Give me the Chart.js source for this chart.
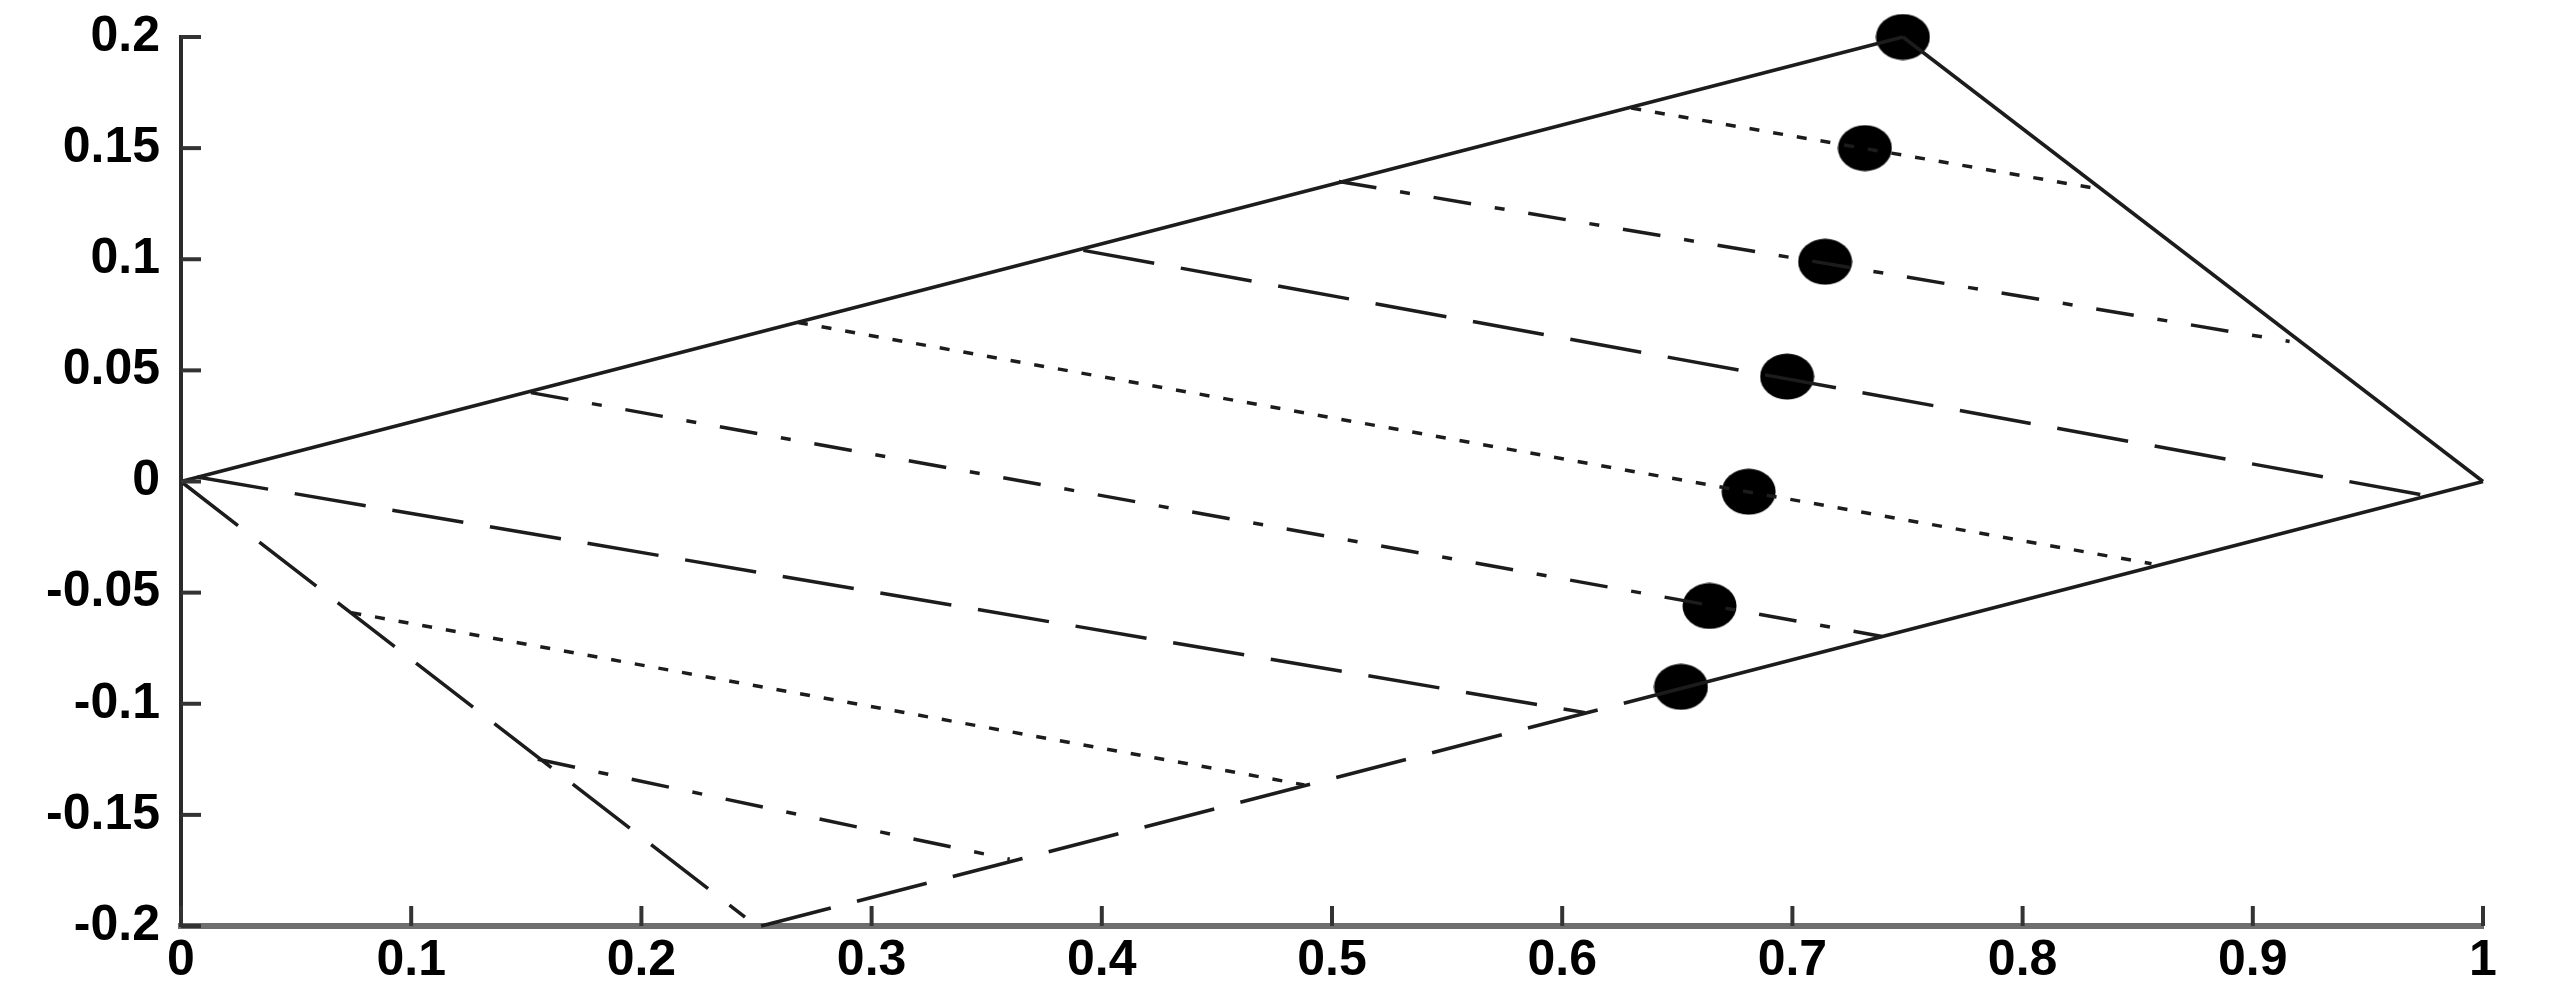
<!DOCTYPE html>
<html>
<head>
<meta charset="utf-8">
<script src="https://cdn.jsdelivr.net/npm/chart.js@4.4.1/dist/chart.umd.min.js"></script>
<style>
  html, body { margin: 0; padding: 0; background: #fff; }
  #wrap { width: 2556px; height: 995px; }
</style>
</head>
<body>
<div id="wrap"><canvas id="regionChart" width="2556" height="995"></canvas></div>
<script>
// tick values and labels
const xTickValues = [0, 0.1, 0.2, 0.3, 0.4, 0.5, 0.6, 0.7, 0.8, 0.9, 1];
const xTickLabels = ['0', '0.1', '0.2', '0.3', '0.4', '0.5', '0.6', '0.7', '0.8', '0.9', '1'];
const yTickValues = [-0.2, -0.15, -0.1, -0.05, 0, 0.05, 0.1, 0.15, 0.2];
const yTickLabels = ['-0.2', '-0.15', '-0.1', '-0.05', '0', '0.05', '0.1', '0.15', '0.2'];

// boundary of the region
const edgeUpper = [[0, 0], [0.748, 0.2]];
const edgeRight = [[0.748, 0.2], [1, 0]];
const edgeLeft = [[0, 0], [0.245, -0.196]];
const edgeLowerDashed = [[0.252, -0.2], [0.652, -0.093]];
const edgeLowerSolid = [[0.652, -0.093], [1, 0]];

// parallel level lines, top to bottom
const levelA = [[0.630, 0.168], [0.831, 0.132]];
const levelB = [[0.503, 0.135], [0.916, 0.063]];
const levelC = [[0.392, 0.104], [0.976, -0.0065]];
const levelD = [[0.268, 0.0715], [0.856, -0.037]];
const levelE = [[0.152, 0.040], [0.739, -0.0697]];
const levelF = [[0.007, 0.002], [0.610, -0.104]];
const levelG = [[0.074, -0.059], [0.488, -0.1365]];
const levelH = [[0.155, -0.125], [0.360, -0.170]];

// marked points
const dotX = [0.748, 0.7315, 0.7142, 0.6977, 0.681, 0.664, 0.6516];
const dotY = [0.2, 0.150, 0.0989, 0.0472, -0.0046, -0.056, -0.0924];

const DASH = {
    solid: [],
    dotted: [10, 14],
    dashDot: [38, 24, 10, 24],
    longDash: [72, 27],
};
const LINE_COLOR = '#1c1c1c';

function segment(points, dash) {
    return {
        type: 'scatter',
        data: points.map(function (p) { return { x: p[0], y: p[1] }; }),
        showLine: true,
        borderColor: LINE_COLOR,
        borderWidth: 3.5,
        borderDash: dash,
        pointRadius: 0,
        clip: false,
    };
}

// the markers are slightly wider than tall in the picture
function ellipseMarker(w, h) {
    const c = document.createElement('canvas');
    c.width = w;
    c.height = h;
    const g = c.getContext('2d');
    g.fillStyle = '#000';
    g.beginPath();
    g.ellipse(w / 2, h / 2, w / 2 - 0.5, h / 2 - 0.5, 0, 0, Math.PI * 2);
    g.fill();
    return c;
}

// short tick marks drawn inward from the two axes
const inwardTicks = {
    id: 'inwardTicks',
    afterDraw: function (chart) {
        const ctx = chart.ctx;
        const area = chart.chartArea;
        const xs = chart.scales.x;
        const ys = chart.scales.y;
        ctx.save();
        ctx.strokeStyle = '#333';
        ctx.lineWidth = 4;
        xs.ticks.forEach(function (t) {
            const px = xs.getPixelForValue(t.value);
            ctx.beginPath();
            ctx.moveTo(px, area.bottom);
            ctx.lineTo(px, area.bottom - 20);
            ctx.stroke();
        });
        ys.ticks.forEach(function (t) {
            const py = ys.getPixelForValue(t.value);
            ctx.beginPath();
            ctx.moveTo(area.left, py);
            ctx.lineTo(area.left + 20, py);
            ctx.stroke();
        });
        ctx.restore();
    },
};

const tickFont = { family: '"Liberation Sans", Arial, sans-serif', size: 50, weight: 'bold' };

new Chart(document.getElementById('regionChart').getContext('2d'), {
    data: {
        datasets: [
            segment(edgeUpper, DASH.solid),
            segment(edgeRight, DASH.solid),
            segment(edgeLeft, DASH.longDash),
            segment(edgeLowerDashed, DASH.longDash),
            segment(edgeLowerSolid, DASH.solid),
            segment(levelA, DASH.dotted),
            segment(levelB, DASH.dashDot),
            segment(levelC, DASH.longDash),
            segment(levelD, DASH.dotted),
            segment(levelE, DASH.dashDot),
            segment(levelF, DASH.longDash),
            segment(levelG, DASH.dotted),
            segment(levelH, DASH.dashDot),
            {
                type: 'scatter',
                data: dotX.map(function (x, i) { return { x: x, y: dotY[i] }; }),
                pointStyle: ellipseMarker(55, 47),
                pointRadius: 25,
                clip: false,
            },
        ],
    },
    options: {
        responsive: false,
        devicePixelRatio: 1,
        animation: false,
        layout: { padding: { top: 37, right: 73, left: 0, bottom: 0 } },
        plugins: { legend: { display: false }, tooltip: { enabled: false } },
        scales: {
            x: {
                type: 'linear',
                min: 0,
                max: 1,
                afterBuildTicks: function (s) { s.ticks = xTickValues.map(function (v) { return { value: v }; }); },
                afterFit: function (s) { s.height = 69; },
                ticks: {
                    callback: function (v, i) { return xTickLabels[i]; },
                    font: tickFont,
                    color: '#000',
                    padding: 5,
                    maxRotation: 0,
                    autoSkip: false,
                },
                grid: { display: false, drawTicks: false },
                border: { display: true, color: '#6e6e6e', width: 6 },
            },
            y: {
                type: 'linear',
                min: -0.2,
                max: 0.2,
                afterBuildTicks: function (s) { s.ticks = yTickValues.map(function (v) { return { value: v }; }); },
                afterFit: function (s) {
                    s.width = 181;
                    s.paddingTop = 0;
                    s.paddingBottom = 0;
                },
                ticks: {
                    callback: function (v, i) { return yTickLabels[i]; },
                    font: tickFont,
                    color: '#000',
                    padding: 21,
                    autoSkip: false,
                },
                grid: { display: false, drawTicks: false },
                border: { display: true, color: '#2a2a2a', width: 4 },
            },
        },
    },
    plugins: [inwardTicks],
});
</script>
</body>
</html>
